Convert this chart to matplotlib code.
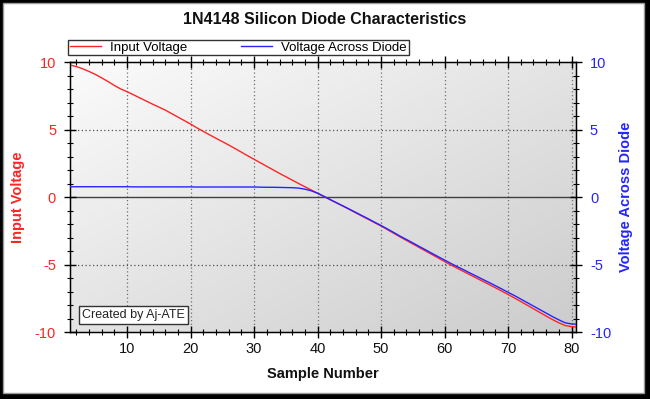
import numpy as np
import matplotlib
matplotlib.use("Agg")
import matplotlib.pyplot as plt
from matplotlib.patches import Rectangle
from matplotlib.lines import Line2D
from matplotlib.ticker import MultipleLocator

plt.rcParams['font.family'] = ['Liberation Sans', 'DejaVu Sans']
plt.rcParams['axes.unicode_minus'] = False

# ---------------- data ----------------
samples = list(range(1, 82))
input_voltage = [
    9.78, 9.66, 9.50, 9.30, 9.08, 8.82, 8.55, 8.26, 8.00, 7.80,
    7.57, 7.34, 7.11, 6.88, 6.66, 6.44, 6.18, 5.92, 5.66, 5.40,
    5.12, 4.86, 4.60, 4.35, 4.10, 3.85, 3.59, 3.32, 3.05, 2.79,
    2.53, 2.27, 2.01, 1.75, 1.50, 1.25, 1.00, 0.76, 0.52, 0.27,
    0.03, -0.21, -0.44, -0.68, -0.92, -1.17, -1.42, -1.66, -1.91, -2.15,
    -2.42, -2.69, -2.96, -3.22, -3.48, -3.74, -4.00, -4.26, -4.52, -4.78,
    -5.04, -5.28, -5.52, -5.76, -6.00, -6.24, -6.48, -6.72, -6.97, -7.22,
    -7.48, -7.74, -8.01, -8.28, -8.55, -8.82, -9.08, -9.32, -9.52, -9.60,
    -9.65,
]
diode_voltage = [
    0.76, 0.76, 0.76, 0.76, 0.76, 0.76, 0.76, 0.76, 0.76, 0.76,
    0.75, 0.75, 0.75, 0.75, 0.75, 0.75, 0.75, 0.75, 0.75, 0.75,
    0.74, 0.74, 0.74, 0.74, 0.74, 0.74, 0.74, 0.74, 0.74, 0.74,
    0.73, 0.72, 0.72, 0.71, 0.70, 0.69, 0.66, 0.58, 0.46, 0.28,
    0.05, -0.19, -0.43, -0.66, -0.90, -1.14, -1.38, -1.62, -1.87, -2.11,
    -2.37, -2.63, -2.90, -3.15, -3.40, -3.66, -3.91, -4.17, -4.42, -4.67,
    -4.92, -5.16, -5.39, -5.63, -5.86, -6.10, -6.33, -6.57, -6.81, -7.06,
    -7.30, -7.56, -7.82, -8.08, -8.34, -8.60, -8.86, -9.10, -9.32, -9.40,
    -9.43,
]
x_ticks = [10, 20, 30, 40, 50, 60, 70, 80]
y_ticks = [-10, -5, 0, 5, 10]

title = "1N4148 Silicon Diode Characteristics"
series_names = ["Input Voltage", "Voltage Across Diode"]
x_label = "Sample Number"
credit = "Created by Aj-ATE"

RED = "#ff2424"
BLUE = "#2424ff"

# ---------------- figure ----------------
W, H = 650, 399
fig = plt.figure(figsize=(W / 100, H / 100), dpi=100, facecolor="black")
fig.patches.append(Rectangle((3 / W, 6 / H), 641 / W, 390 / H,
                             transform=fig.transFigure, facecolor="white",
                             edgecolor="#9a9a9a", linewidth=1, zorder=-10))

L, R, T, B = 70, 576, 62, 332
ax = fig.add_axes([L / W, (H - B) / H, (R - L) / W, (B - T) / H])
ax.set_xlim(1, 80.7)
ax.set_ylim(-10, 10)

# diagonal gradient background
n = 200
u = np.linspace(0, 1, n)
v = np.linspace(0, 1, n)
U, V = np.meshgrid(u, v)
g = (U + V) / 2.0
light, dark = 0.985, 0.80
img = light + (dark - light) * g
ax.imshow(np.dstack([img, img, img]), extent=[0, 1, 0, 1], transform=ax.transAxes,
          origin="upper", aspect="auto", zorder=0, interpolation="bilinear")

# grid
for xv in x_ticks:
    ax.axvline(xv, color="#707070", linestyle=(0, (1, 2)), linewidth=0.9, zorder=1)
for yv in [5, -5]:
    ax.axhline(yv, color="#505050", linestyle=(0, (1, 2)), linewidth=0.9, zorder=1)
ax.axhline(0, color="#404040", linewidth=1.0, zorder=1)

ax.plot(samples, input_voltage, color=RED, linewidth=1.0, zorder=3)

ax.set_xticks(x_ticks)
ax.xaxis.set_minor_locator(MultipleLocator(2))
ax.set_yticks(y_ticks)
ax.yaxis.set_minor_locator(MultipleLocator(1))
ax.tick_params(axis="x", which="major", direction="inout", length=8, width=1,
               labelsize=10.5, pad=3, top=True, labelcolor="#111111")
ax.tick_params(axis="x", which="minor", direction="inout", length=5, width=0.8, top=True)
ax.tick_params(axis="y", which="major", direction="inout", length=8, width=1,
               labelsize=10.5, pad=6, labelcolor=RED)
ax.tick_params(axis="y", which="minor", direction="inout", length=5, width=0.8)
for s in ax.spines.values():
    s.set_color("black")
    s.set_linewidth(1)

ax2 = ax.twinx()
ax2.set_ylim(-10, 10)
ax2.plot(samples, diode_voltage, color=BLUE, linewidth=1.0, zorder=4)
ax2.set_yticks(y_ticks)
ax2.yaxis.set_minor_locator(MultipleLocator(1))
ax2.tick_params(axis="y", which="major", direction="inout", length=8, width=1,
                labelsize=10.5, pad=6, labelcolor=BLUE)
ax2.tick_params(axis="y", which="minor", direction="inout", length=5, width=0.8)

# labels
ax.set_xlabel(x_label, fontsize=10.5, fontweight="bold", color="#111111")
ax.xaxis.set_label_coords(0.5, -0.155)
ax.xaxis.label.set_va("center")
ax.set_ylabel(series_names[0], fontsize=10.5, fontweight="bold", color=RED)
ax.yaxis.set_label_coords(-0.102, 0.5)
ax.yaxis.label.set_va("center")
ax2.set_ylabel(series_names[1], fontsize=10.5, fontweight="bold", color=BLUE, rotation=90)
ax2.yaxis.set_label_coords(1.099, 0.5)
ax2.yaxis.label.set_va("center")

fig.text(325 / W, 1 - 19 / H, title, ha="center", va="center",
         fontsize=11.5, fontweight="bold", color="#111111")

# legend
handles = [Line2D([], [], color=RED, linewidth=1.0),
           Line2D([], [], color=BLUE, linewidth=1.0)]
leg = fig.legend(handles, series_names, loc="upper left",
                 bbox_to_anchor=(68 / W, 1 - 40 / H), ncol=2, fontsize=9.5,
                 frameon=True, fancybox=False, borderaxespad=0, borderpad=0.12,
                 handlelength=2.4, handletextpad=0.7, columnspacing=4.0)
leg.get_frame().set_edgecolor("black")
leg.get_frame().set_linewidth(1.0)
leg.get_frame().set_facecolor("white")

# credit box
ax.text(0.024, 0.04, credit, transform=ax.transAxes, fontsize=9,
        ha="left", va="bottom", color="#222222", zorder=6,
        bbox=dict(boxstyle="square,pad=0.22", facecolor="white",
                  edgecolor="#333333", linewidth=1.0))

fig.savefig("out.png", dpi=100, facecolor=fig.get_facecolor())
